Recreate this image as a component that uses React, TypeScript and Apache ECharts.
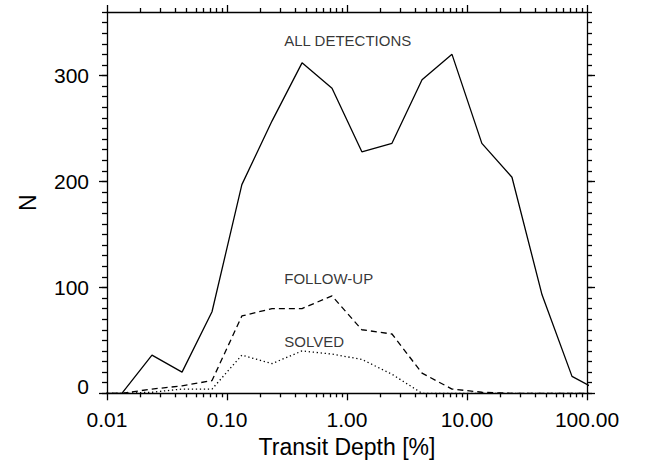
import React, { useEffect, useRef } from "react";
import * as echarts from "echarts";

// Bin centres of the transit-depth histogram (in %)
const binCenters = [0.0075, 0.0133, 0.0237, 0.0422, 0.075, 0.133, 0.237, 0.422, 0.75, 1.33, 2.37, 4.22, 7.5, 13.3, 23.7, 42.2, 75, 133];
const allDetections = [0, 0, 36, 20, 77, 197, 257, 312, 288, 228, 236, 296, 320, 236, 204, 93, 16, 1];
const followUp = [0, 0, 4, 7, 12, 73, 80, 80, 92, 60, 56, 19, 4, 1, 0, 0, 0, 0];
const solved = [0, 0, 1, 4, 4, 36, 28, 40, 37, 32, 18, 0, 0, 0, 0, 0, 0, 0];

const yMajorTicks = [0, 100, 200, 300];
const annotationTexts = ["ALL DETECTIONS", "FOLLOW-UP", "SOLVED"];
const annotationX = [0.3, 0.3, 0.3];
const annotationY = [333, 108, 48.5];

const FONT = "'Liberation Sans', Arial, Helvetica, sans-serif";
const BLACK = "#000";

export default function App() {
  const ref = useRef<HTMLDivElement>(null);

  useEffect(() => {
    if (!ref.current) return;
    const chart = echarts.init(ref.current, undefined, { renderer: "svg" });

    const lineW = 1.3;
    const axisLine = { show: true, onZero: false, lineStyle: { color: BLACK, width: lineW } };
    const majorTick = { show: true, inside: false, length: 7, lineStyle: { color: BLACK, width: lineW } };
    const minorTick = { show: true, splitNumber: 10, length: 4, lineStyle: { color: BLACK, width: lineW } };

    const xBase = {
      type: "log" as const,
      logBase: 10,
      min: 0.01,
      max: 100,
      splitLine: { show: false },
      minorSplitLine: { show: false },
      axisLine,
      axisTick: majorTick,
      minorTick,
    };

    const yRange = { type: "value" as const, min: 0, max: 360, splitLine: { show: false } };

    const option = {
      animation: false,
      backgroundColor: "#fff",
      textStyle: { fontFamily: FONT },
      grid: { left: 107, right: 61, top: 12, bottom: 70.7, containLabel: false },
      xAxis: [
        {
          ...xBase,
          position: "bottom",
          name: "Transit Depth [%]",
          nameLocation: "middle",
          nameGap: 42,
          nameTextStyle: { color: BLACK, fontSize: 23, fontFamily: FONT },
          axisLabel: {
            color: BLACK,
            fontSize: 21,
            fontFamily: FONT,
            margin: 16,
            formatter: (v: number) => Number(v).toFixed(2),
          },
        },
        {
          ...xBase,
          position: "top",
          axisLabel: { show: false },
        },
      ],
      yAxis: [
        {
          ...yRange,
          position: "left",
          interval: 100,
          name: "N",
          nameLocation: "middle",
          nameRotate: 90,
          nameGap: 68,
          nameTextStyle: { color: BLACK, fontSize: 23, fontFamily: FONT },
          axisLine,
          axisTick: { ...majorTick, length: 8, customValues: yMajorTicks },
          axisLabel: {
            color: BLACK,
            fontSize: 21,
            fontFamily: FONT,
            margin: 18,
            customValues: yMajorTicks,
            formatter: (v: number) => (v === 0 ? "{z|0}" : String(v)),
            rich: { z: { fontSize: 21, fontFamily: FONT, color: BLACK, padding: [0, 0, 14, 0] } },
          },
        },
        {
          ...yRange,
          position: "left",
          interval: 10,
          axisLine: { show: false, onZero: false },
          axisTick: { show: true, inside: false, length: 5, lineStyle: { color: BLACK, width: lineW } },
          axisLabel: { show: false },
        },
        {
          ...yRange,
          position: "right",
          interval: 100,
          axisLine,
          axisTick: { ...majorTick, length: 8, customValues: yMajorTicks },
          axisLabel: { show: false },
        },
        {
          ...yRange,
          position: "right",
          interval: 10,
          axisLine: { show: false, onZero: false },
          axisTick: { show: true, inside: false, length: 5, lineStyle: { color: BLACK, width: lineW } },
          axisLabel: { show: false },
        },
      ],
      series: [
        {
          name: "ALL DETECTIONS",
          type: "line",
          xAxisIndex: 0,
          yAxisIndex: 0,
          data: binCenters.map((x, i) => [x, allDetections[i]]),
          showSymbol: false,
          symbol: "none",
          clip: true,
          lineStyle: { color: BLACK, width: lineW, type: "solid" },
        },
        {
          name: "FOLLOW-UP",
          type: "line",
          xAxisIndex: 0,
          yAxisIndex: 0,
          data: binCenters.map((x, i) => [x, followUp[i]]),
          showSymbol: false,
          symbol: "none",
          clip: true,
          lineStyle: { color: BLACK, width: lineW, type: [6, 4] },
        },
        {
          name: "SOLVED",
          type: "line",
          xAxisIndex: 0,
          yAxisIndex: 0,
          data: binCenters.map((x, i) => [x, solved[i]]),
          showSymbol: false,
          symbol: "none",
          clip: true,
          lineStyle: { color: BLACK, width: lineW, type: [1.3, 2.7] },
        },
        {
          name: "labels",
          type: "scatter",
          xAxisIndex: 0,
          yAxisIndex: 0,
          silent: true,
          symbolSize: 0,
          data: annotationTexts.map((t, i) => [annotationX[i], annotationY[i], t]),
          label: {
            show: true,
            position: "right",
            distance: 0,
            color: BLACK,
            fontSize: 15,
            fontFamily: FONT,
            formatter: (p: any) => p.value[2],
          },
        },
      ],
    };

    chart.setOption(option as any);
    return () => chart.dispose();
  }, []);

  return (
    <div
      ref={ref}
      style={{ position: "absolute", left: 0, top: 0, width: 648, height: 464, background: "#fff" }}
    />
  );
}
